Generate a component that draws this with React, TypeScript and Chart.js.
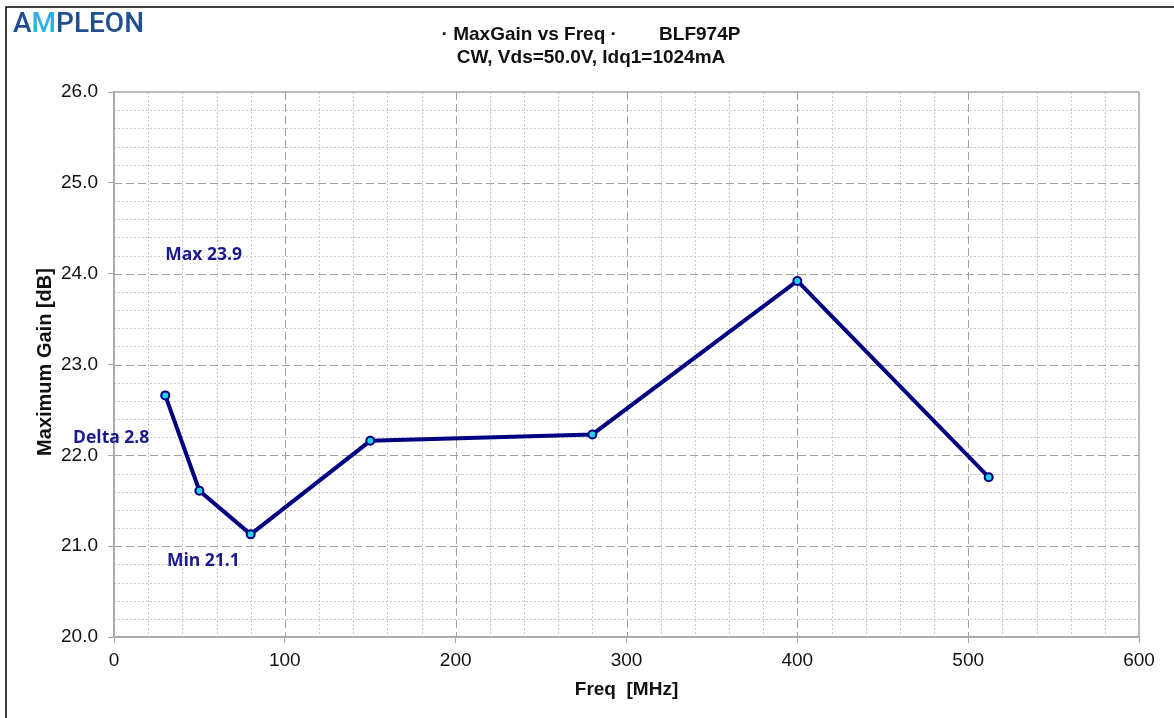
import React, { useEffect, useRef } from "react";
import { Chart, registerables } from "chart.js";

Chart.register(...registerables);

const freqMHz = [30, 50, 80, 150, 280, 400, 512];
const maxGainDb = [22.66, 21.61, 21.13, 22.16, 22.23, 23.92, 21.76];

const titleLines = ["· MaxGain vs Freq ·        BLF974P", "CW, Vds=50.0V, Idq1=1024mA"];
const xAxisTitle = "Freq  [MHz]";
const yAxisTitle = "Maximum Gain [dB]";

const annotationTexts = ["Max 23.9", "Delta 2.8", "Min 21.1"];
const annotationX = [30, -24, 31];
const annotationY = [24.2, 22.19, 20.84];

const xMajorStep = 100;
const xMinorStep = 20;
const yMajorStep = 1;
const yMinorStep = 0.2;

const NAVY = "#000080";
const LABEL_NAVY = "#1a1a8c";

const decorPlugin = {
  id: "decor",
  beforeDatasetsDraw(chart: any) {
    const { ctx, chartArea: a, scales } = chart;
    const xs = scales.x;
    const ys = scales.y;
    ctx.save();
    ctx.lineWidth = 1;
    ctx.strokeStyle = "#c8c8c8";
    ctx.setLineDash([2, 2]);
    for (let v = xs.min + xMinorStep; v < xs.max - 1e-6; v += xMinorStep) {
      if (Math.abs(v / xMajorStep - Math.round(v / xMajorStep)) < 1e-6) continue;
      const px = Math.round(xs.getPixelForValue(v)) + 0.5;
      ctx.beginPath(); ctx.moveTo(px, a.top); ctx.lineTo(px, a.bottom); ctx.stroke();
    }
    for (let v = ys.min + yMinorStep; v < ys.max - 1e-6; v += yMinorStep) {
      if (Math.abs(v / yMajorStep - Math.round(v / yMajorStep)) < 1e-6) continue;
      const py = Math.round(ys.getPixelForValue(v)) + 0.5;
      ctx.beginPath(); ctx.moveTo(a.left, py); ctx.lineTo(a.right, py); ctx.stroke();
    }
    ctx.strokeStyle = "#a0a0a0";
    ctx.setLineDash([8, 4]);
    for (let v = xs.min + xMajorStep; v < xs.max - 1e-6; v += xMajorStep) {
      const px = Math.round(xs.getPixelForValue(v)) + 0.5;
      ctx.beginPath(); ctx.moveTo(px, a.top); ctx.lineTo(px, a.bottom); ctx.stroke();
    }
    for (let v = ys.min + yMajorStep; v < ys.max - 1e-6; v += yMajorStep) {
      const py = Math.round(ys.getPixelForValue(v)) + 0.5;
      ctx.beginPath(); ctx.moveTo(a.left, py); ctx.lineTo(a.right, py); ctx.stroke();
    }
    ctx.setLineDash([]);
    ctx.strokeStyle = "#a6a6a6";
    ctx.lineWidth = 1.5;
    ctx.strokeRect(a.left, a.top, a.right - a.left, a.bottom - a.top);
    ctx.restore();
  },
  afterDraw(chart: any) {
    const { ctx, chartArea: a, scales } = chart;
    const xs = scales.x;
    const ys = scales.y;
    ctx.save();
    ctx.strokeStyle = "#000";
    ctx.lineWidth = 1.5;
    ctx.beginPath();
    ctx.moveTo(6, 730); ctx.lineTo(6, 7); ctx.lineTo(1180, 7);
    ctx.stroke();
    // logo
    ctx.textBaseline = "alphabetic";
    ctx.textAlign = "left";
    ctx.font = "500 28px Roboto";
    let lx = 13;
    const logo = [["A", "#1f4f8f"], ["M", "#2cb2e6"], ["PLEON", "#1f4f8f"]];
    for (const [t, c] of logo) {
      ctx.fillStyle = c;
      ctx.fillText(t, lx, 32);
      lx += ctx.measureText(t).width;
    }
    // title
    ctx.fillStyle = "#111";
    ctx.textAlign = "center";
    ctx.textBaseline = "middle";
    ctx.font = "bold 19px 'Liberation Sans', Arial";
    ctx.fillText(titleLines[0], 591, 35);
    ctx.fillText(titleLines[1], 591, 58);
    // axis titles
    ctx.font = "bold 19px 'Liberation Sans', Arial";
    ctx.fillText(xAxisTitle, (a.left + a.right) / 2, 690);
    ctx.save();
    ctx.font = "bold 20px 'Liberation Sans', Arial";
    ctx.translate(45, 362);
    ctx.rotate(-Math.PI / 2);
    ctx.fillText(yAxisTitle, 0, 0);
    ctx.restore();
    // annotations
    ctx.fillStyle = LABEL_NAVY;
    ctx.textAlign = "left";
    ctx.font = "bold 17.5px 'Open Sans'";
    for (let i = 0; i < annotationTexts.length; i++) {
      ctx.fillText(annotationTexts[i], xs.getPixelForValue(annotationX[i]), ys.getPixelForValue(annotationY[i]));
    }
    ctx.restore();
  },
};

export default function App() {
  const ref = useRef<HTMLCanvasElement | null>(null);
  useEffect(() => {
    document.body.style.margin = "0";
    const chart = new Chart(ref.current as HTMLCanvasElement, {
      type: "line",
      data: {
        datasets: [
          {
            data: freqMHz.map((f, i) => ({ x: f, y: maxGainDb[i] })),
            borderColor: NAVY,
            borderWidth: 4,
            pointRadius: 4,
            pointBorderWidth: 2,
            pointBackgroundColor: "#22d3ee",
            pointBorderColor: NAVY,
            tension: 0,
          },
        ],
      },
      options: {
        animation: false,
        responsive: false,
        maintainAspectRatio: false,
        layout: { padding: { left: 0, top: 92, right: 35, bottom: 0 } },
        plugins: { legend: { display: false }, tooltip: { enabled: false }, title: { display: false } },
        scales: {
          x: {
            type: "linear",
            min: 0,
            max: 600,
            ticks: { stepSize: xMajorStep, color: "#111", font: { family: "'Liberation Sans', Arial", size: 19 }, padding: 6, maxRotation: 0 },
            grid: { drawOnChartArea: false, drawTicks: true, tickLength: 6, color: "#a6a6a6" },
            border: { display: true, color: "#a6a6a6", width: 1.5 },
            afterFit: (s: any) => { s.height = 81; },
          },
          y: {
            type: "linear",
            min: 20,
            max: 26,
            ticks: { stepSize: yMajorStep, color: "#111", font: { family: "'Liberation Sans', Arial", size: 19 }, padding: 10, callback: (v: any) => Number(v).toFixed(1) },
            grid: { drawOnChartArea: false, drawTicks: true, tickLength: 6, color: "#a6a6a6" },
            border: { display: true, color: "#a6a6a6", width: 1.5 },
            afterFit: (s: any) => { s.width = 114; },
          },
        },
      },
      plugins: [decorPlugin],
    } as any);
    return () => chart.destroy();
  }, []);
  return (
    <div style={{ width: 1174, height: 718, background: "#fff" }}>
      <canvas ref={ref} width={1174} height={718} style={{ display: "block" }} />
    </div>
  );
}
